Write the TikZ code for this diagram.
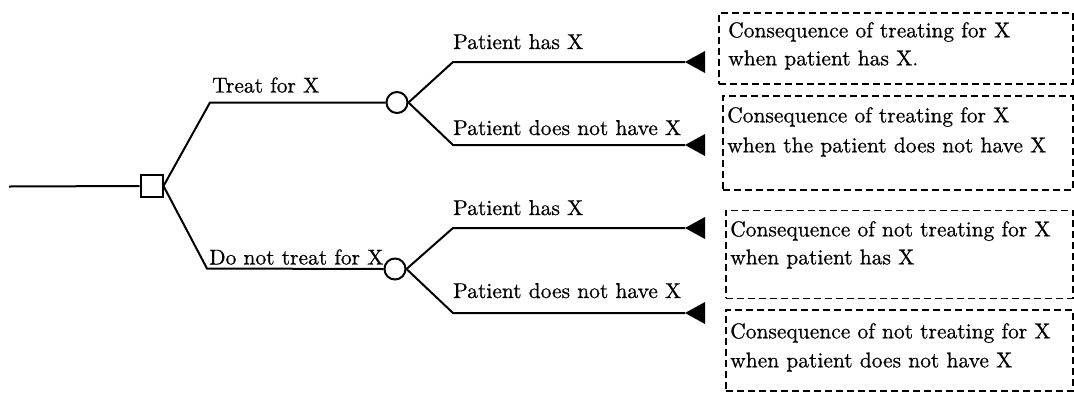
\documentclass[tikz,border=0pt]{standalone}
\usepackage{fontspec}
\newfontfamily\diagfont{lmroman10-regular.otf}[FakeBold=0.6]
\begin{document}
\begin{tikzpicture}[x=1pt,y=-1pt,
  branch/.style={line width=2pt},
  decision/.style={draw, line width=2pt, rectangle, minimum size=22pt, inner sep=0pt, fill=white},
  chance/.style={draw, line width=2pt, circle, minimum size=21pt, inner sep=0pt, fill=white},
  lbl/.style={anchor=base west, inner sep=0pt, font=\diagfont\fontsize{21.5}{28}\selectfont},
  outcome/.style={draw, dash pattern=on 7pt off 4pt, line width=1.7pt, anchor=north west, inner sep=0pt},
  outtext/.style={anchor=north west, inner sep=0pt, align=left, font=\diagfont\fontsize{21.5}{28}\selectfont},
  terminal/.style={fill=black},
]
\useasboundingbox (0,0) rectangle (1074,392);

% decision and chance nodes
\coordinate (root) at (9,186.5);
\node[decision] (dec) at (151.5,186) {};
\coordinate (u0) at (210,102.5);
\coordinate (l0) at (207,268.5);
\node[chance] (c1) at (397,102.5) {};
\node[chance] (c2) at (395,269) {};

% bend points of the outcome branches
\coordinate (p1) at (453,62);
\coordinate (p2) at (453,145);
\coordinate (p3) at (453,228);
\coordinate (p4) at (453,313);
% terminal tips
\coordinate (t1) at (685,62);
\coordinate (t2) at (685,145);
\coordinate (t3) at (685,228);
\coordinate (t4) at (685,313);

% branches
\draw[branch] (root) -- (dec.west);
\draw[branch] (dec.east) -- (u0) -- (c1.west);
\draw[branch] (dec.east) -- (l0) -- (c2.west);
\draw[branch] (c1.east) -- (p1) -- (t1);
\draw[branch] (c1.east) -- (p2) -- (t2);
\draw[branch] (c2.east) -- (p3) -- (t3);
\draw[branch] (c2.east) -- (p4) -- (t4);

% terminal triangles
\foreach \t in {t1,t2,t3,t4}
  \fill[terminal] (\t) -- ++(20,-11) -- ++(0,22) -- cycle;

% branch labels
\node[lbl] (treat) at (212,92.5) {Treat for X};
\node[lbl] (notreat) at (209,264.5) {Do not treat for X};
\node[lbl] (has1) at (453,49) {Patient has X};
\node[lbl] (hasnot1) at (453,135) {Patient does not have X};
\node[lbl] (has2) at (453,215) {Patient has X};
\node[lbl] (hasnot2) at (453,298) {Patient does not have X};

% consequence boxes
\node[outcome, minimum width=354pt, minimum height=71pt] (b1) at (718,12) {};
\node[outcome, minimum width=350pt, minimum height=94pt] (b2) at (722,95) {};
\node[outcome, minimum width=347pt, minimum height=88pt] (b3) at (725,209.5) {};
\node[outcome, minimum width=347pt, minimum height=81pt] (b4) at (725,309) {};

\node[outtext] (b1txt) at (728,22) {Consequence of treating for X\\when patient has X.};
\node[outtext] (b2txt) at (727,107) {Consequence of treating for X\\[2pt]when the patient does not have X};
\node[outtext] (b3txt) at (730,221) {Consequence of not treating for X\\when patient has X};
\node[outtext] (b4txt) at (730,323) {Consequence of not treating for X\\[1pt]when patient does not have X};
\end{tikzpicture}
\end{document}
